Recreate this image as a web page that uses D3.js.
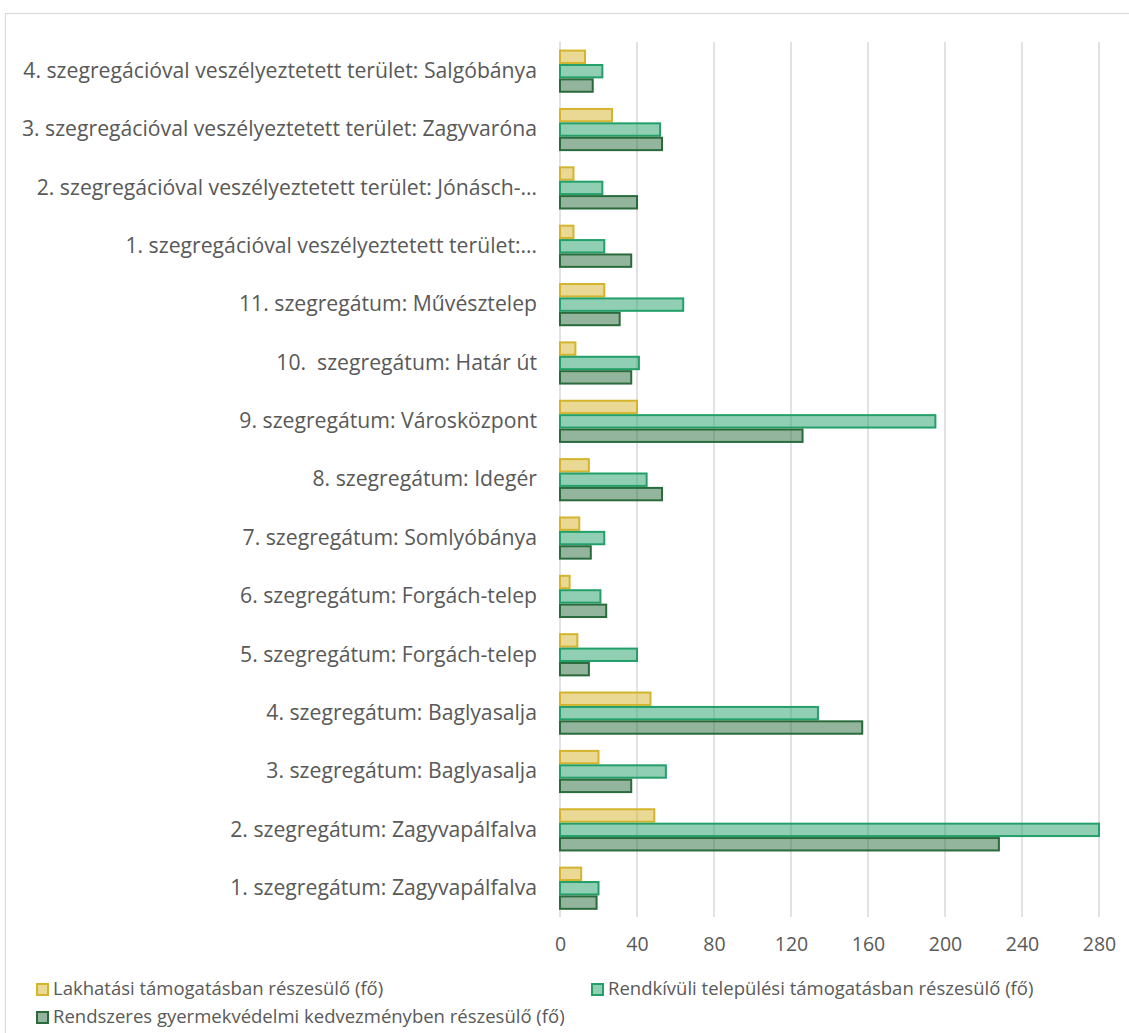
<!DOCTYPE html>
<html>
<head>
<meta charset="utf-8">
<script src="https://cdn.jsdelivr.net/npm/d3@7"></script>
<style>
  body { margin: 0; background: #fff; }
  text { font-family: "Open Sans", Lato, sans-serif; fill: #595959; white-space: pre; }
</style>
</head>
<body>
<svg id="chart" width="1129" height="1033"></svg>
<script>
// categories, top to bottom as shown in the chart
const categories = [
  "4. szegregációval veszélyeztetett terület: Salgóbánya",
  "3. szegregációval veszélyeztetett terület: Zagyvaróna",
  "2. szegregációval veszélyeztetett terület: Jónásch-…",
  "1. szegregációval veszélyeztetett terület:…",
  "11. szegregátum: Művésztelep",
  "10.  szegregátum: Határ út",
  "9. szegregátum: Városközpont",
  "8. szegregátum: Idegér",
  "7. szegregátum: Somlyóbánya",
  "6. szegregátum: Forgách-telep",
  "5. szegregátum: Forgách-telep",
  "4. szegregátum: Baglyasalja",
  "3. szegregátum: Baglyasalja",
  "2. szegregátum: Zagyvapálfalva",
  "1. szegregátum: Zagyvapálfalva"
];

const seriesNames = [
  "Lakhatási támogatásban részesülő (fő)",
  "Rendkívüli települési támogatásban részesülő (fő)",
  "Rendszeres gyermekvédelmi kedvezményben részesülő (fő)"
];

const lakhatasi = [13, 27, 7, 7, 23, 8, 40, 15, 10, 5, 9, 47, 20, 49, 11];
const rendkivuli = [22, 52, 22, 23, 64, 41, 195, 45, 23, 21, 40, 134, 55, 282, 20];
const rendszeres = [17, 53, 40, 37, 31, 37, 126, 53, 16, 24, 15, 157, 37, 228, 19];

const xTicks = [0, 40, 80, 120, 160, 200, 240, 280];

const colors = ["#d4b42c", "#23a06a", "#2a6b3c"];

const svg = d3.select("#chart");
const font = "'Open Sans', Lato, sans-serif";

// outer chart frame
svg.append("rect")
  .attr("x", 5.5).attr("y", 13.5)
  .attr("width", 1140).attr("height", 1040)
  .attr("fill", "none")
  .attr("stroke", "#d9d9d9")
  .attr("stroke-width", 1.2);

const x = d3.scaleLinear().domain([0, 280]).range([560, 1099]).clamp(true);

const y = d3.scaleBand()
  .domain(categories)
  .range([42, 917.4])
  .paddingInner(0.26)
  .paddingOuter(0.13);

const ySub = d3.scaleBand().domain([0, 1, 2]).range([0, y.bandwidth()]);

// vertical gridlines
svg.append("g")
  .selectAll("line")
  .data(xTicks)
  .join("line")
  .attr("x1", d => x(d)).attr("x2", d => x(d))
  .attr("y1", 42).attr("y2", 917)
  .attr("stroke", "#d9d9d9")
  .attr("stroke-width", 1.5);

// tick labels
const xAxis = svg.append("g")
  .attr("transform", "translate(0,917)")
  .call(d3.axisBottom(x).tickValues(xTicks).tickSize(0).tickPadding(20));
xAxis.select(".domain").remove();
xAxis.selectAll("text")
  .attr("font-size", 19.5)
  .style("font-family", font)
  .attr("fill", "#595959");

// category labels
const yAxis = svg.append("g")
  .attr("transform", "translate(560,0)")
  .call(d3.axisLeft(y).tickSize(0).tickPadding(23));
yAxis.select(".domain").remove();
yAxis.selectAll("text")
  .attr("font-size", 21.2)
  .style("font-family", font)
  .attr("fill", "#595959");

// bars
const allSeries = [lakhatasi, rendkivuli, rendszeres];
allSeries.forEach((vals, s) => {
  svg.append("g")
    .selectAll("rect")
    .data(vals)
    .join("rect")
    .attr("x", x(0))
    .attr("y", (d, i) => y(categories[i]) + ySub(s) + 1)
    .attr("width", d => x(d) - x(0))
    .attr("height", ySub.bandwidth() - 2)
    .attr("fill", colors[s])
    .attr("fill-opacity", 0.5)
    .attr("stroke", colors[s])
    .attr("stroke-width", 2);
});

// legend
const legendPos = [[36, 989], [591, 989], [36, 1017]];
seriesNames.forEach((name, s) => {
  const g = svg.append("g")
    .attr("transform", "translate(" + legendPos[s][0] + "," + legendPos[s][1] + ")");
  g.append("rect")
    .attr("x", 1).attr("y", -5)
    .attr("width", 11).attr("height", 11)
    .attr("fill", colors[s])
    .attr("fill-opacity", 0.5)
    .attr("stroke", colors[s])
    .attr("stroke-width", 2);
  g.append("text")
    .attr("x", 17)
    .attr("dy", "0.35em")
    .attr("font-size", 18.5)
    .text(name);
});
</script>
</body>
</html>
